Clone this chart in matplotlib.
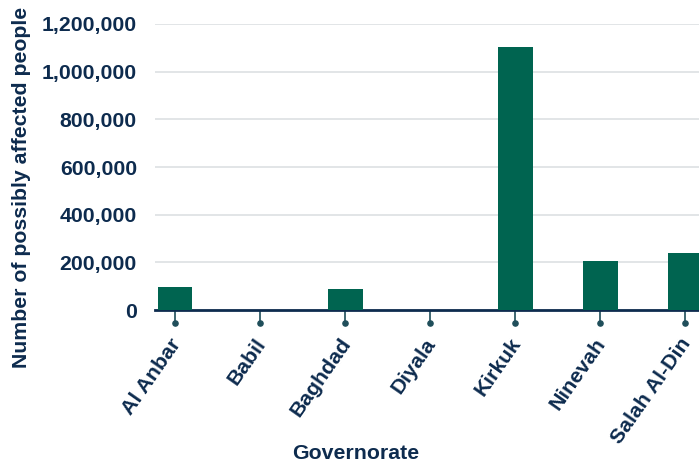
import numpy as np
import matplotlib.pyplot as plt
import matplotlib.transforms as mtransforms
from matplotlib.ticker import FuncFormatter

plt.rcParams['font.family'] = ['Liberation Sans', 'DejaVu Sans']

# data
governorates = ['Al Anbar', 'Babil', 'Baghdad', 'Diyala', 'Kirkuk', 'Ninevah', 'Salah Al-Din']
affected = [97000, 2000, 88000, 1500, 1104000, 206000, 239000]

navy = '#0d2b4e'
green = '#006450'
fs = 15.3

fig = plt.figure(figsize=(6.99, 4.62), dpi=100)
ax = fig.add_axes([155/699, 1 - 310/462, 544/699, 286/462])

x = np.arange(len(governorates))
ax.bar(x, affected, width=0.41, color=green, zorder=3)

ax.set_ylim(0, 1200000)
ax.set_xlim(-0.235, 6.16)
ax.set_yticks(np.arange(0, 1200001, 200000))
ax.yaxis.set_major_formatter(FuncFormatter(lambda v, p: f'{int(v):,}'))
ax.grid(axis='y', color='#dde0e3', linewidth=1.2, zorder=0)
ax.set_axisbelow(True)

for s in ['top', 'right', 'left']:
    ax.spines[s].set_visible(False)
ax.spines['bottom'].set_color(navy)
ax.spines['bottom'].set_linewidth(2)
ax.spines['bottom'].set_zorder(2)

ax.tick_params(axis='y', length=0, pad=13, labelsize=fs, labelcolor=navy)
ax.tick_params(axis='x', length=9, width=1.2, color='#1f4e5a', pad=11,
               labelsize=fs, labelcolor=navy)
for lab in ax.get_yticklabels():
    lab.set_fontweight('bold')

# dots at the end of each tick
ax.scatter(x, [-0.044] * len(x), s=14, color='#1f4e5a',
           transform=ax.get_xaxis_transform(), clip_on=False, zorder=4)

ax.set_xticks(x)
ax.set_xticklabels(governorates, rotation=55, ha='right', rotation_mode='anchor',
                   fontweight='bold')
# nudge rotated labels a little left and up
shift = mtransforms.ScaledTranslation(-6/100, 3/100, fig.dpi_scale_trans)
for lab in ax.get_xticklabels():
    lab.set_transform(lab.get_transform() + shift)

ax.set_xlabel('Governorate', fontsize=fs, fontweight='bold', color=navy)
ax.xaxis.set_label_coords(0.368, -0.47)
ax.set_ylabel('Number of possibly affected people', fontsize=fs, fontweight='bold',
              color=navy)
ax.yaxis.set_label_coords(-0.228, 0.428)

fig.savefig('out.png', dpi=100)
